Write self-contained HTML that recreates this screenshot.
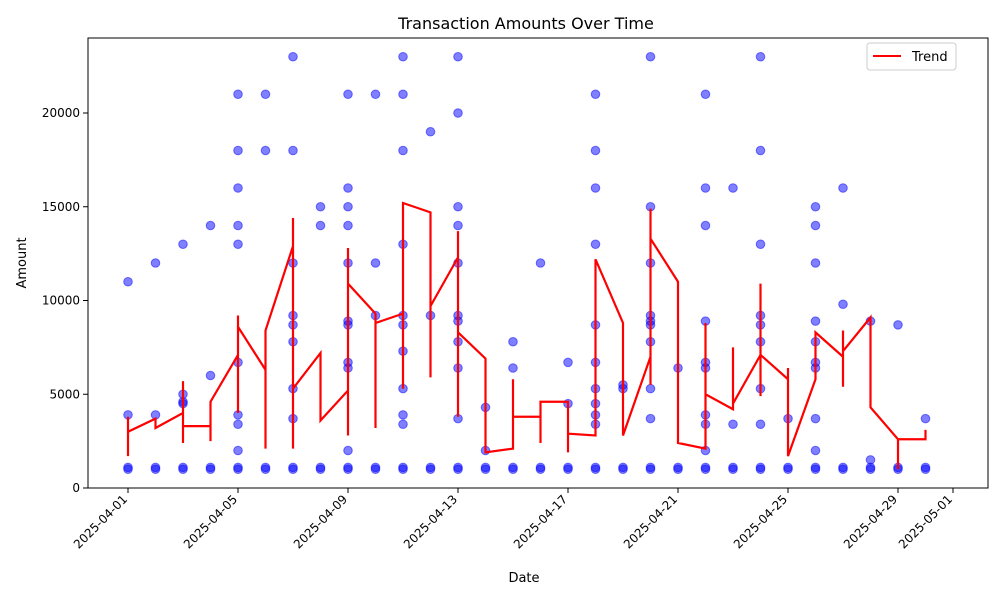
<!DOCTYPE html>
<html><head><meta charset="utf-8"><style>
body{margin:0;background:#fff;font-family:"Liberation Sans","DejaVu Sans",sans-serif}
svg text{font-family:"DejaVu Sans","Liberation Sans",sans-serif}
</style></head><body>
<svg id="chart" width="1000" height="600" xmlns="http://www.w3.org/2000/svg">
<rect width="1000" height="600" fill="#fff"/>
<text x="526" y="29" font-size="16" text-anchor="middle">Transaction Amounts Over Time</text>
<g id="points"></g>
<g id="trend"></g>
<g id="axes"></g>
<rect x="88" y="38" width="900" height="450" fill="none" stroke="#000" stroke-width="1"/>
<text x="524" y="582" font-size="13" text-anchor="middle">Date</text>
<text x="26" y="263" font-size="13" text-anchor="middle" transform="rotate(-90 26 263)">Amount</text>
<g>
<rect x="867" y="43" width="89" height="27" rx="3" fill="#fff" stroke="#ccc"/>
<line x1="873" y1="56" x2="901" y2="56" stroke="red" stroke-width="2"/>
<text x="912" y="61" font-size="13">Trend</text>
</g>
</svg>
<script>
const scatterDays=[0,1,2,3,4,5,6,7,8,9,10,11,12,13,14,15,16,17,18,19,20,21,22,23,24,25,26,27,28,29];
const scatterValues=[
[11000,3900,1100,1000],[12000,3900,1100,1000],[13000,5000,4600,4500,1100,1000],[14000,6000,1100,1000],
[21000,18000,16000,14000,13000,6700,3900,3400,2000,1100,1000],[21000,18000,1100,1000],
[23000,18000,12000,9200,8700,7800,5300,3700,1100,1000],[15000,14000,1100,1000],
[21000,16000,15000,14000,12000,8900,8700,6700,6400,2000,1100,1000],[21000,12000,9200,1100,1000],
[23000,21000,18000,13000,9200,8700,7300,5300,3900,3400,1100,1000],[19000,9200,1100,1000],
[23000,20000,15000,14000,12000,9200,8900,7800,6400,3700,1100,1000],[4300,2000,1100,1000],
[7800,6400,1100,1000],[12000,1100,1000],[6700,4500,1100,1000],
[21000,18000,16000,13000,8700,6700,5300,4500,3900,3400,1100,1000],[5500,5300,1100,1000],
[23000,15000,12000,9200,8900,8700,7800,5300,3700,1100,1000],[6400,1100,1000],
[21000,16000,14000,8900,6700,6400,3900,3400,2000,1100,1000],[16000,3400,1100,1000],
[23000,18000,13000,9200,8700,7800,5300,3400,1100,1000],[3700,1100,1000],
[15000,14000,12000,8900,7800,6700,6400,3700,2000,1100,1000],[16000,9800,1100,1000],
[8900,1500,1100,1000],[8700,1100,1000],[3700,1100,1000]];
const trendDays=[0,0,0,1,1,2,2,2,2,3,3,3,4,4,4,4,5,5,5,6,6,6,6,7,7,8,8,8,8,9,9,9,10,10,10,11,11,11,12,12,12,12,13,13,14,14,14,15,15,15,16,16,16,17,17,18,18,19,19,19,19,20,20,21,21,21,21,22,22,22,23,23,23,23,24,24,24,25,25,26,26,26,26,27,27,27,28,28,28,29,29,29];
const trendValues=[1700,3800,3000,3700,3200,4000,5700,2400,3300,3300,2500,4600,7100,9200,4000,8600,6300,2100,8400,12900,14400,2100,5300,7200,3600,5200,12800,2800,10900,9300,3200,8800,9300,5300,15200,14700,5900,9700,12300,13700,3800,8300,6900,1900,2100,5800,3800,3800,2400,4600,4600,1900,2900,2800,12200,8800,2800,7000,14900,5500,13300,11000,2400,2100,8800,2100,5000,4200,7500,4500,7100,10900,4900,7100,5800,6400,1700,5800,8300,7000,8400,5400,7300,9100,8800,4300,2600,1000,2600,2600,3100,2600];
const xTickDays=[0,4,8,12,16,20,24,28,30];
const xTickLabels=["2025-04-01","2025-04-05","2025-04-09","2025-04-13","2025-04-17","2025-04-21","2025-04-25","2025-04-29","2025-05-01"];
const yTicks=[0,5000,10000,15000,20000];
const NS="http://www.w3.org/2000/svg";
const xS=d=>128+d*27.5, yS=v=>488-v*0.01875;
function mk(t,a,p){const e=document.createElementNS(NS,t);for(const k in a)e.setAttribute(k,a[k]);p.appendChild(e);return e;}
const pg=document.getElementById('points');
scatterDays.forEach((d,i)=>scatterValues[i].forEach(v=>{
 const c=mk('circle',{cx:xS(d),cy:yS(v),r:4.3,fill:'blue','fill-opacity':0.5,stroke:'blue','stroke-opacity':0.5,'stroke-width':1},pg);
 
 
}));
const tp=mk('polyline',{points:trendDays.map((d,i)=>xS(d)+','+yS(trendValues[i])).join(' '),fill:'none',stroke:'red','stroke-width':2.2},document.getElementById('trend'));


const ax=document.getElementById('axes');
xTickDays.forEach((d,i)=>{const x=xS(d);
 mk('line',{x1:x,y1:488,x2:x,y2:493,stroke:'#000'},ax);
 const t=mk('text',{x:x,y:500,'font-size':12,'text-anchor':'end',transform:`rotate(-45 ${x} 500)`},ax);
 t.textContent=xTickLabels[i];
 
 
});
yTicks.forEach(v=>{const y=yS(v);
 mk('line',{x1:83,y1:y,x2:88,y2:y,stroke:'#000'},ax);
 const t=mk('text',{x:80,y:y+4,'font-size':12,'text-anchor':'end'},ax);
 t.textContent=v;
 
 
});
</script>
</body></html>
